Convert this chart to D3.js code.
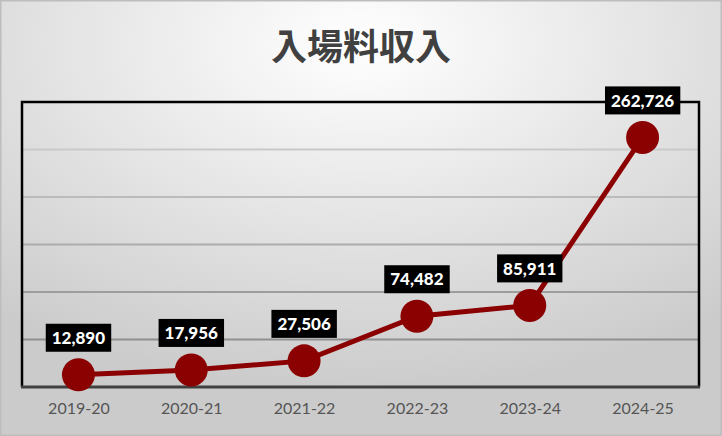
<!DOCTYPE html>
<html>
<head>
<meta charset="utf-8">
<script src="https://cdn.jsdelivr.net/npm/d3@7"></script>
<style>
  html, body { margin: 0; padding: 0; }
  svg { display: block; }
</style>
</head>
<body>
<svg width="722" height="436"></svg>
<script>
var svg = d3.select("svg");

//==================================================
//Data
var years = ["2019-20", "2020-21", "2021-22", "2022-23", "2023-24", "2024-25"];
var revenue = [12890, 17956, 27506, 74482, 85911, 262726];
var yTicks = [0, 50000, 100000, 150000, 200000, 250000, 300000];
var title = "入場料収入";

var W = 722, H = 436;
var plotL = 22, plotR = 699, plotT = 102, plotB = 387;

//==================================================
//Background
var defs = svg.append("defs");
var bg = defs.append("radialGradient")
    .attr("id", "bg")
    .attr("cx", "50%").attr("cy", "10%")
    .attr("r", "80%");
bg.append("stop").attr("offset", "0%").attr("stop-color", "#ffffff");
bg.append("stop").attr("offset", "100%").attr("stop-color", "#cbcbcb");

svg.append("rect")
    .attr("width", W).attr("height", H)
    .attr("fill", "url(#bg)");
svg.append("rect")
    .attr("x", 0.5).attr("y", 0.5)
    .attr("width", W - 1).attr("height", H - 1)
    .attr("fill", "none")
    .attr("stroke", "#bdbdbd").attr("stroke-width", 2);

//==================================================
//Scales
var x = d3.scalePoint()
    .domain(years)
    .range([plotL, plotR])
    .padding(0.5);

var y = d3.scaleLinear()
    .domain([0, 300000])
    .range([plotB, plotT]);

//gridlines fade from light (top) to darker (bottom)
var gridColor = d3.scaleLinear()
    .domain([plotT, plotB])
    .range(["#d8d8d8", "#808080"]);

svg.append("g")
    .selectAll("line")
    .data(yTicks.slice(1, -1))
    .enter().append("line")
    .attr("x1", plotL).attr("x2", plotR)
    .attr("y1", function(d) { return y(d); })
    .attr("y2", function(d) { return y(d); })
    .attr("stroke", function(d) { return gridColor(y(d)); })
    .attr("stroke-width", 2);

//plot frame
svg.append("path")
    .attr("d", "M" + plotL + "," + plotB + "V" + plotT + "H" + plotR + "V" + plotB)
    .attr("fill", "none")
    .attr("stroke", "#000")
    .attr("stroke-width", 2.5);

svg.append("line")
    .attr("x1", plotL - 1).attr("x2", plotR + 1)
    .attr("y1", plotB).attr("y2", plotB)
    .attr("stroke", "#404040")
    .attr("stroke-width", 3);

//x axis labels
var xAxis = d3.axisBottom(x).tickSize(0).tickPadding(16);
var gx = svg.append("g")
    .attr("transform", "translate(0," + plotB + ")")
    .call(xAxis);
gx.select(".domain").remove();
gx.selectAll("text")
    .attr("fill", "#555")
    .style("font-family", "Lato, 'Open Sans', sans-serif")
    .style("font-size", "16px");

//==================================================
//Line + points
var line = d3.line()
    .x(function(d, i) { return x(years[i]); })
    .y(function(d) { return y(d); });

svg.append("path")
    .datum(revenue)
    .attr("d", line)
    .attr("fill", "none")
    .attr("stroke", "#8b0000")
    .attr("stroke-width", 5);

svg.append("g")
    .selectAll("circle")
    .data(revenue)
    .enter().append("circle")
    .attr("cx", function(d, i) { return x(years[i]); })
    .attr("cy", function(d) { return y(d); })
    .attr("r", 16.5)
    .attr("fill", "#8b0000");

//labels
var fmt = d3.format(",");
var labels = svg.append("g")
    .selectAll("g")
    .data(revenue)
    .enter().append("g")
    .attr("transform", function(d, i) {
        return "translate(" + x(years[i]) + "," + (y(d) - 37) + ")";
    });

labels.append("text")
    .attr("text-anchor", "middle")
    .attr("dy", "0.36em")
    .attr("fill", "#fff")
    .style("font-family", "Lato, 'Open Sans', sans-serif")
    .style("font-weight", "900")
    .style("font-size", "17px")
    .text(function(d) { return fmt(d); });

labels.each(function() {
    var g = d3.select(this);
    var bb = g.select("text").node().getBBox();
    g.insert("rect", "text")
        .attr("x", bb.x - 6)
        .attr("y", -14)
        .attr("width", bb.width + 12)
        .attr("height", 28)
        .attr("fill", "#000");
});

//==================================================
//Title
svg.append("text")
    .attr("x", W / 2)
    .attr("y", 60)
    .attr("text-anchor", "middle")
    .attr("fill", "#404040")
    .style("font-family", "'Noto Sans CJK JP', sans-serif")
    .style("font-weight", "bold")
    .style("font-size", "36px")
    .text(title);
</script>
</body>
</html>
